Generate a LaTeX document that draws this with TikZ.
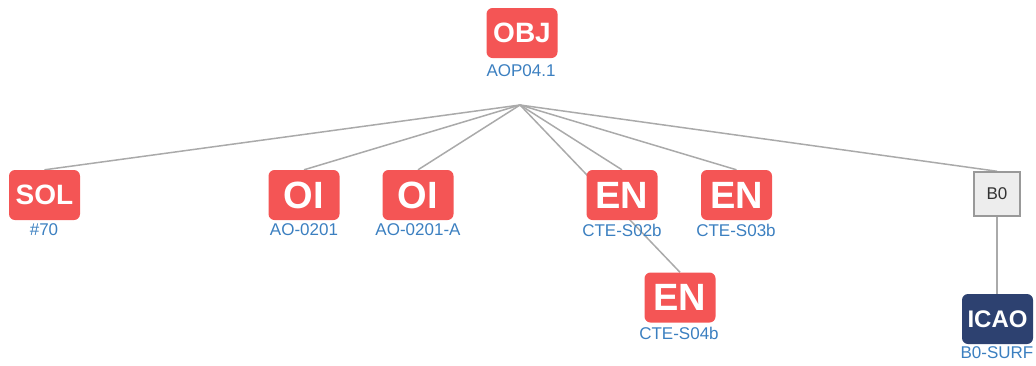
\documentclass[tikz,border=0pt]{standalone}
\usepackage{fontspec}
\setmainfont{Liberation Sans}
\usetikzlibrary{backgrounds}
\definecolor{objred}{HTML}{F45555}
\definecolor{icaonavy}{HTML}{2D4170}
\definecolor{refblue}{HTML}{3B7FC0}
\definecolor{edgegray}{HTML}{AAAAAA}
\tikzset{
  tag/.style={fill=objred, text=white, rounded corners=6, minimum width=71,
    minimum height=50, inner sep=0, font=\bfseries\fontsize{28}{28}\selectfont},
  bigtag/.style={tag, font=\bfseries\fontsize{38}{38}\selectfont},
  navytag/.style={tag, fill=icaonavy, font=\bfseries\fontsize{24}{24}\selectfont},
  greybox/.style={fill=black!7, draw=black!40, line width=1.5, minimum width=46,
    minimum height=44, inner sep=0, text=black!80, font=\fontsize{17}{17}\selectfont},
  ref/.style={text=refblue, inner sep=0, font=\fontsize{17}{17}\selectfont},
  link/.style={draw=edgegray, line width=1.5},
}
\begin{document}
\begin{tikzpicture}[x=1pt,y=-1pt]
  \useasboundingbox (0,0) rectangle (1036,365);
  % root
  \node[tag] (obj) at (522,33) {OBJ};
  \node[ref] (obj-ref) at (521,71) {AOP04.1};
  \coordinate (hub) at (520,105);
  % children
  \node[tag] (sol) at (44.5,195) {SOL};
  \node[ref] (sol-ref) at (44,230) {\#70};
  \node[bigtag] (oi1) at (304,195) {OI};
  \node[ref] (oi1-ref) at (304,230) {AO-0201};
  \node[bigtag] (oi2) at (418,195) {OI};
  \node[ref] (oi2-ref) at (418,230) {AO-0201-A};
  \node[bigtag] (en1) at (622,195) {EN};
  \node[ref] (en1-ref) at (622,230) {CTE-S02b};
  \node[bigtag] (en2) at (736.5,195) {EN};
  \node[ref] (en2-ref) at (736,230) {CTE-S03b};
  \node[bigtag] (en3) at (680,297.5) {EN};
  \node[ref] (en3-ref) at (679,333) {CTE-S04b};
  \node[greybox] (b0) at (997,194) {B0};
  \node[navytag] (icao) at (997.5,319) {ICAO};
  \node[ref] (icao-ref) at (997,353) {B0-SURF};
  \begin{scope}[on background layer]
    \draw[link] (hub) to (sol.north);
    \draw[link] (hub) to (oi1.north);
    \draw[link] (hub) to (oi2.north);
    \draw[link] (hub) to (en1.north);
    \draw[link] (hub) to (en2.north);
    \draw[link] (hub) to (en3.north);
    \draw[link] (hub) to (b0.north);
    \draw[link] (b0.south) to (b0.south |- icao.north);
  \end{scope}
\end{tikzpicture}
\end{document}
